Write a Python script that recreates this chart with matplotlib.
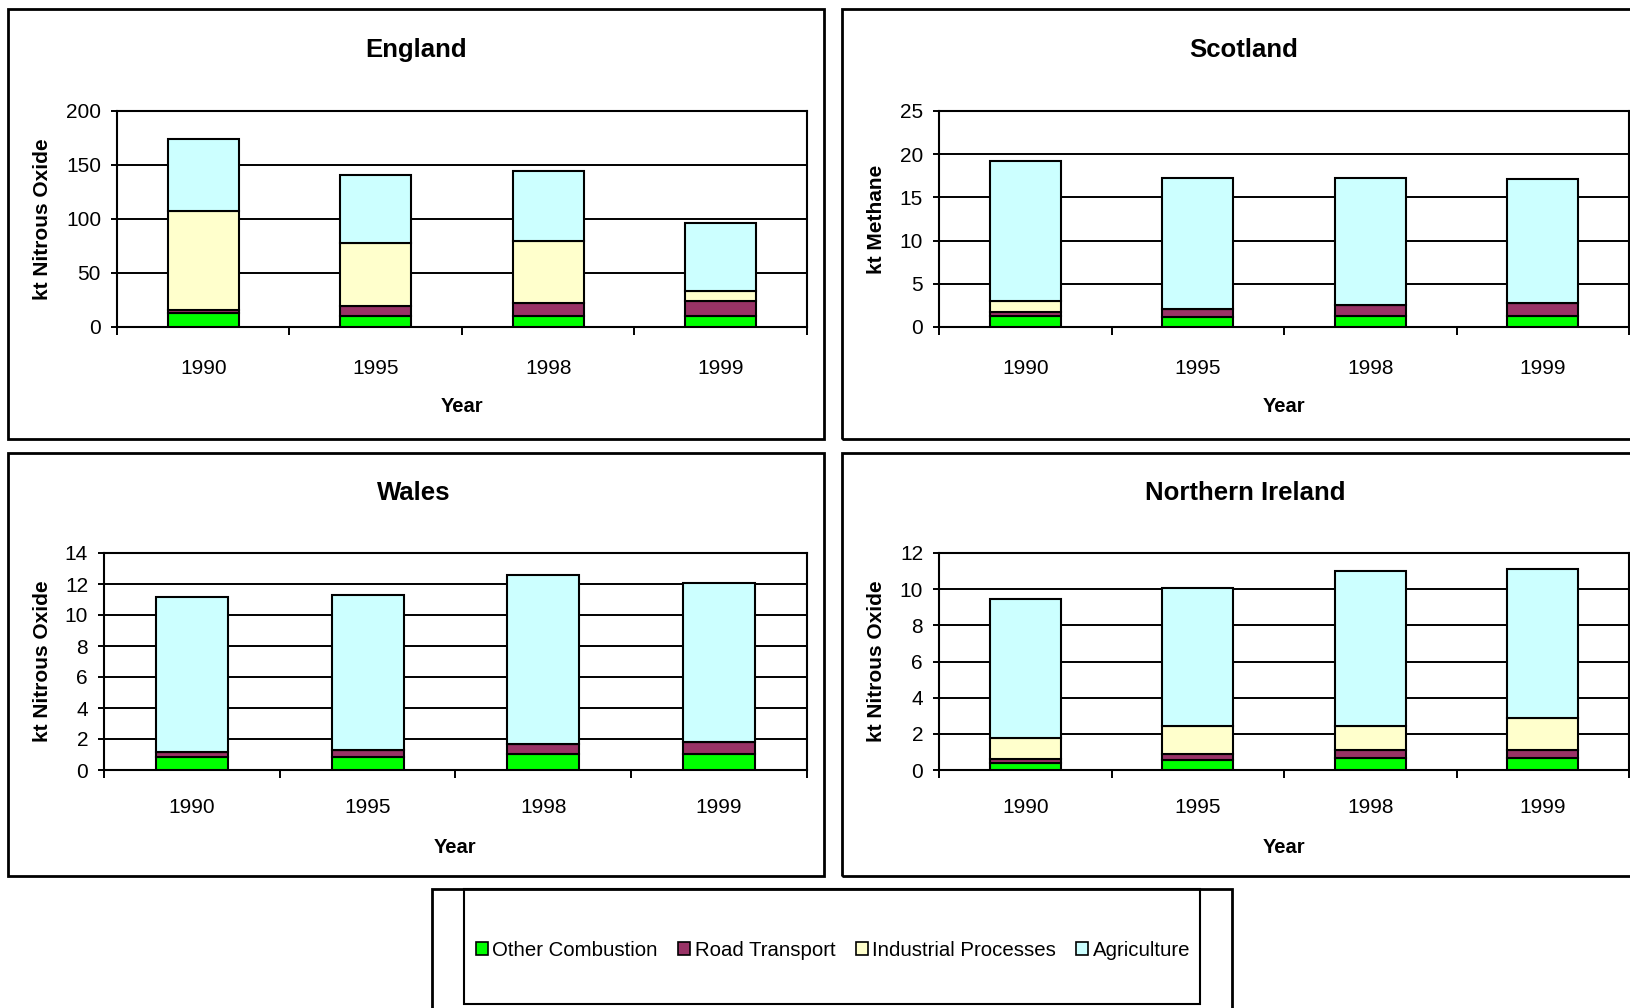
import matplotlib.pyplot as plt
from matplotlib.patches import Rectangle
from matplotlib.ticker import FixedLocator

plt.rcParams['font.family'] = ['Liberation Sans', 'DejaVu Sans']

years = ['1990', '1995', '1998', '1999']
sources = ['Other Combustion', 'Road Transport', 'Industrial Processes', 'Agriculture']
colours = ['#00FF00', '#993366', '#FFFFCC', '#CCFFFF']

# kt per source, in the order of `sources`
england = [
    [12.9, 10.5, 10.5, 10.5],
    [2.5, 8.5, 11.7, 13.2],
    [92.1, 58.7, 57.6, 9.3],
    [66.3, 63.1, 64.4, 63.0],
]
scotland = [
    [1.3, 1.1, 1.3, 1.3],
    [0.4, 1.0, 1.3, 1.5],
    [1.3, 0.0, 0.0, 0.0],
    [16.2, 15.2, 14.7, 14.3],
]
wales = [
    [0.87, 0.87, 1.02, 1.02],
    [0.30, 0.43, 0.65, 0.80],
    [0.0, 0.0, 0.0, 0.0],
    [9.98, 9.98, 10.91, 10.26],
]
n_ireland = [
    [0.41, 0.56, 0.65, 0.65],
    [0.18, 0.33, 0.46, 0.46],
    [1.17, 1.56, 1.34, 1.77],
    [7.68, 7.64, 8.55, 8.23],
]

W, H = 1631, 1008
fig = plt.figure(figsize=(W / 100, H / 100), dpi=100)


def px_rect(x0, y0, x1, y1):
    # pixel box (top-left origin) -> figure fraction [l, b, w, h]
    return [x0 / W, 1 - y1 / H, (x1 - x0) / W, (y1 - y0) / H]


def frame(x0, y0, x1, y1, lw=2.0):
    l, b, w, h = px_rect(x0, y0, x1, y1)
    fig.add_artist(Rectangle((l, b), w, h, transform=fig.transFigure,
                             fill=False, edgecolor='black', lw=lw))


def panel(box, title, title_xy, data, ymax, ystep, ylabel, ylabel_x,
          xpad=24, xlabelpad=17):
    ax = fig.add_axes(px_rect(*box))
    x = range(len(years))
    bottom = [0.0] * len(years)
    for vals, col in zip(data, colours):
        ax.bar(x, vals, 0.41, bottom=bottom, color=col, edgecolor='black',
               linewidth=1.5, zorder=3)
        bottom = [b + v for b, v in zip(bottom, vals)]
    ax.set_xlim(-0.5, len(years) - 0.5)
    ax.set_ylim(0, ymax)
    ax.set_yticks(range(0, ymax + 1, ystep))
    ax.yaxis.grid(True, color='black', lw=1.4, zorder=0)
    ax.set_axisbelow(True)
    ax.set_xticks(list(x))
    ax.set_xticklabels(years)
    ax.xaxis.set_minor_locator(FixedLocator([i - 0.5 for i in range(len(years) + 1)]))
    ax.tick_params(axis='x', which='major', length=0, pad=xpad, labelsize=15)
    ax.tick_params(axis='x', which='minor', length=6, width=1.4, direction='out')
    ax.tick_params(axis='y', length=4.5, width=1.4, pad=7, labelsize=15)
    for s in ax.spines.values():
        s.set_linewidth(1.5)
    ax.set_xlabel('Year', fontsize=14.5, fontweight='bold', labelpad=xlabelpad)
    ax.set_ylabel(ylabel, fontsize=15, fontweight='bold')
    ax.yaxis.set_label_coords(ylabel_x, 0.5)
    fig.text(title_xy[0] / W, 1 - title_xy[1] / H, title, ha='center',
             va='center', fontsize=18.5, fontweight='bold')
    return ax


# panel frames
frame(8, 9, 824, 439)
frame(842, 9, 1650, 439)
frame(8, 453, 824, 876)
frame(842, 453, 1650, 876)

panel((117, 111, 807, 327), 'England', (416, 50), england, 200, 50,
      'kt Nitrous Oxide', -0.094, xpad=23, xlabelpad=14)
panel((939, 111, 1629, 327), 'Scotland', (1244, 50), scotland, 25, 5,
      'kt Methane', -0.077, xpad=23, xlabelpad=14)
panel((104, 553, 807, 770), 'Wales', (414, 493), wales, 14, 2,
      'kt Nitrous Oxide', -0.074, xpad=20, xlabelpad=15)
panel((939, 553, 1629, 770), 'Northern Ireland', (1245, 493), n_ireland, 12, 2,
      'kt Nitrous Oxide', -0.077, xpad=20, xlabelpad=15)

# legend boxes
frame(432, 889, 1232, 1030)
frame(464, 889, 1200, 1004, lw=1.5)
handles = [Rectangle((0, 0), 1, 1, facecolor=c, edgecolor='black', lw=1.2)
           for c in colours]
fig.legend(handles, sources, loc='center', ncol=4, frameon=False,
           bbox_to_anchor=(833 / W, 1 - 950 / H), fontsize=14.7,
           handlelength=0.6, handleheight=0.6, handletextpad=0.2,
           columnspacing=1.0, borderpad=0)

fig.savefig('out.png', dpi=100)
